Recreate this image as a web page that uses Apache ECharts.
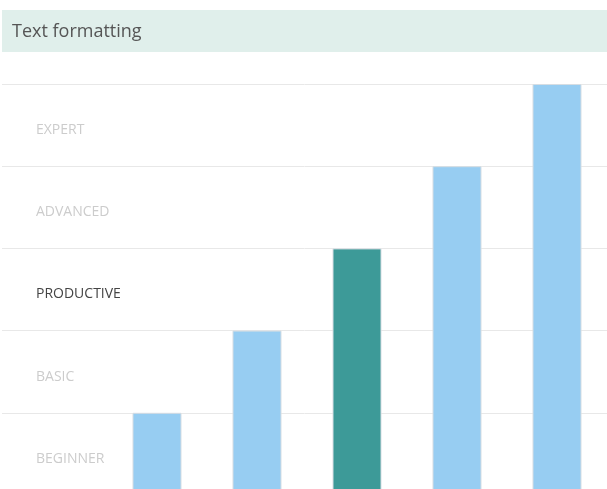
<!DOCTYPE html>
<html>
<head>
<meta charset="utf-8">
<script src="https://cdn.jsdelivr.net/npm/echarts@6/dist/echarts.min.js"></script>
<style>
  html, body { margin: 0; padding: 0; background: #fff; }
  #chart { width: 607px; height: 489px; }
</style>
</head>
<body>
<div id="chart"></div>
<script>
// Skill levels shown as band labels on the left
const levels = ['BEGINNER', 'BASIC', 'PRODUCTIVE', 'ADVANCED', 'EXPERT'];
const highlightLevel = 'PRODUCTIVE';

// Bar slots (first slot is left empty for the level labels)
const slots = ['', 'S1', 'S2', 'S3', 'S4', 'S5'];
const values = [null, 1, 2, 3, 4, 5];
const highlightIndex = 3;

const lightBlue = '#97cdf2';
const teal = '#3d9a98';

const chart = echarts.init(document.getElementById('chart'));

chart.setOption({
  animation: false,
  title: {
    text: 'Text formatting',
    left: 7,
    top: 18,
    textStyle: { fontFamily: 'Open Sans', fontSize: 18, fontWeight: 'normal', color: '#555' }
  },
  graphic: [{
    type: 'rect',
    z: -1,
    shape: { x: 2, y: 10, width: 605, height: 42 },
    style: { fill: '#e0efeb' }
  }],
  grid: [
    { left: 2, right: 0, top: 84, height: 411, outerBoundsMode: 'none' },
    { left: 7, right: 0, top: 84, height: 411, outerBoundsMode: 'none' }
  ],
  xAxis: [
    { type: 'category', gridIndex: 0, data: slots, show: false },
    { type: 'category', gridIndex: 1, data: slots, show: false }
  ],
  yAxis: [
    {
      type: 'value', gridIndex: 0, min: 0, max: 5, interval: 1,
      axisLabel: { show: false }, axisLine: { show: false }, axisTick: { show: false },
      splitLine: { lineStyle: { color: '#e8e8e8', width: 1 } }
    },
    {
      type: 'category', gridIndex: 0, data: levels, position: 'left',
      axisLine: { show: false }, axisTick: { show: false }, splitLine: { show: false },
      axisLabel: {
        inside: true, margin: 34,
        fontFamily: 'Open Sans', fontSize: 14,
        verticalAlign: 'top', lineHeight: 10,
        color: function (v) { return v === highlightLevel ? '#444' : '#cccccc'; }
      }
    },
    {
      type: 'value', gridIndex: 1, min: 0, max: 5, interval: 1, show: false
    }
  ],
  series: [{
    type: 'bar',
    xAxisIndex: 1,
    yAxisIndex: 2,
    barWidth: 49,
    data: values.map(function (v, i) {
      return {
        value: v,
        itemStyle: { color: i === highlightIndex ? teal : lightBlue }
      };
    }),
    itemStyle: { borderColor: '#d6dde3', borderWidth: 1 }
  }]
});
</script>
</body>
</html>
